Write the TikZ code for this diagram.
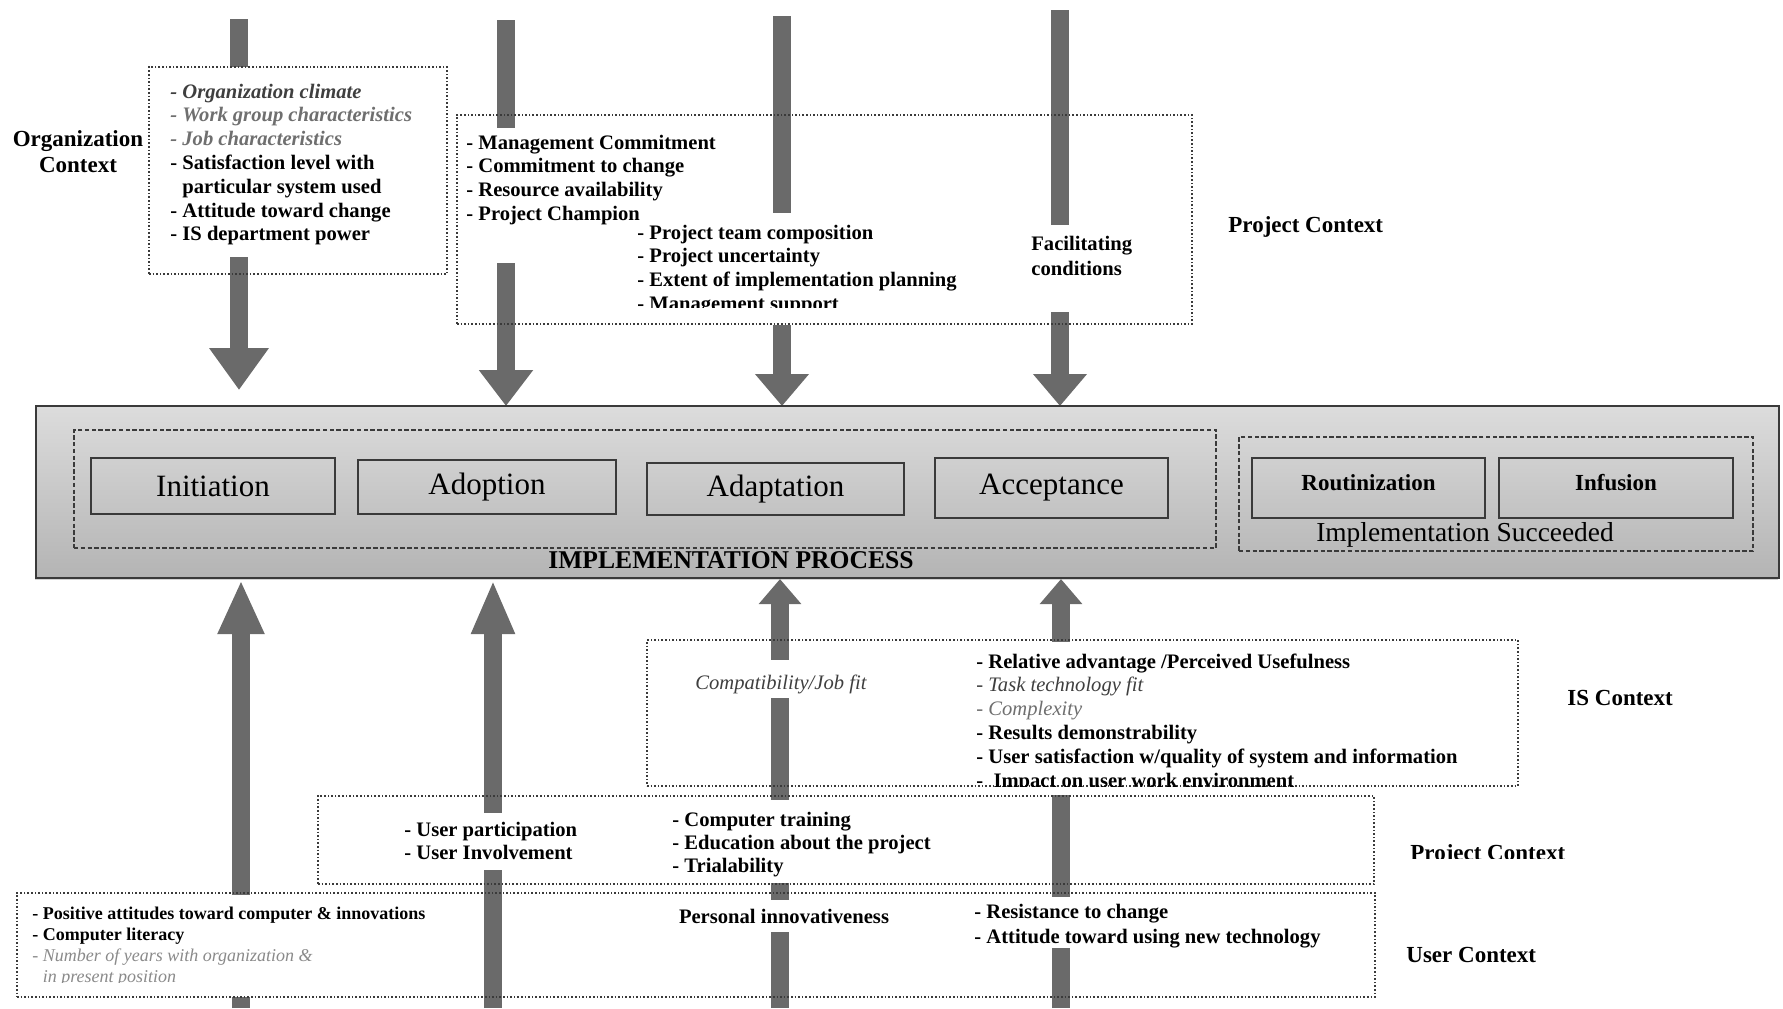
\documentclass[tikz,border=0pt]{standalone}
\usepackage{fontspec}
\setmainfont{Liberation Serif}
\usetikzlibrary{arrows.meta,shadows}

\definecolor{arrowgray}{HTML}{6A6A6A}
\definecolor{boxline}{HTML}{3A3A3A}
\definecolor{itdark}{HTML}{3F3F3F}
\definecolor{itgray}{HTML}{6F6F6F}
\definecolor{itlight}{HTML}{8A8A8A}
\definecolor{procTop}{HTML}{DCDCDC}
\definecolor{procBot}{HTML}{B4B4B4}

\begin{document}
\begin{tikzpicture}[x=0.5pt,y=-0.5pt,
  ctxbox/.style={draw=boxline, line width=0.8pt, densely dotted, inner sep=0pt},
  grpbox/.style={draw=boxline, line width=0.8pt, dash pattern=on 2.2pt off 1.2pt, inner sep=0pt},
  stagebox/.style={draw=boxline, line width=1pt, inner sep=0pt,
    font=\fontsize{15.5}{18}\selectfont},
  donebox/.style={draw=boxline, line width=1pt, inner sep=0pt,
    font=\fontsize{11.5}{13}\selectfont\bfseries},
  mask/.style={fill=white, draw=none},
  flow/.style={draw=arrowgray, line width=9pt},
  % multi-line texts are placed by the baseline of their last line
  txt/.style={font=\fontsize{10.3}{11.9}\selectfont\bfseries, align=left,
    inner sep=0pt, anchor=base west},
  lab/.style={font=\fontsize{11.5}{13}\selectfont\bfseries, inner sep=0pt,
    anchor=base west},
]
\useasboundingbox (0,0) rectangle (1783,1008);

% ---------- arrow end points ----------
\coordinate (t1s) at (239,19);   \coordinate (t1e) at (239,390);
\coordinate (t2s) at (506,20);   \coordinate (t2e) at (506,406);
\coordinate (t3s) at (782,16);   \coordinate (t3e) at (782,406);
\coordinate (t4s) at (1060,10);  \coordinate (t4e) at (1060,406);
\coordinate (b1s) at (241,1008); \coordinate (b1e) at (241,580);
\coordinate (b2s) at (493,1008); \coordinate (b2e) at (493,580);
\coordinate (b3s) at (780,1008); \coordinate (b3e) at (780,579);
\coordinate (b4s) at (1061,1008);\coordinate (b4e) at (1061,579);

% ---------- influence arrows ----------
\draw[flow, -{Triangle[width=28.5pt,length=21pt]}] (t1s) -- (t1e);
\draw[flow, -{Triangle[width=26pt,length=18pt]}] (t2s) -- (t2e);
\draw[flow, -{Triangle[width=26pt,length=16pt]}] (t3s) -- (t3e);
\draw[flow, -{Triangle[width=26pt,length=16pt]}] (t4s) -- (t4e);
\draw[flow, -{Triangle[width=21.5pt,length=27pt]}] (b1s) -- (b1e);
\draw[flow, -{Triangle[width=20pt,length=27pt]}] (b2s) -- (b2e);
\draw[flow, -{Triangle[width=20.5pt,length=12.5pt]}] (b3s) -- (b3e);
\draw[flow, -{Triangle[width=20.5pt,length=12.5pt]}] (b4s) -- (b4e);

% ---------- white text panels hiding the shafts ----------
\path[mask] (150,67) rectangle (446,257);
\path[mask] (460,128) rectangle (740,263);
\path[mask] (630,213) rectangle (1000,325);
\path[mask] (1025,225) rectangle (1150,312);
\path[mask] (690,660) rectangle (875,698);
\path[mask] (970,642) rectangle (1510,795);
\path[mask] (398,813) rectangle (585,870);
\path[mask] (665,800) rectangle (940,883);
\path[mask] (19,895) rectangle (445,997);
\path[mask] (675,900) rectangle (895,932);
\path[mask] (968,897) rectangle (1330,948);

% ---------- context boxes ----------
\node[ctxbox, minimum width=149pt, minimum height=103.5pt] (orgbox) at (298,170.5) {};
\node[ctxbox, minimum width=367.5pt, minimum height=104.5pt] (projtop) at (824.5,219.5) {};
\node[ctxbox, minimum width=435.5pt, minimum height=73pt] (isbox) at (1082.5,713) {};
\node[ctxbox, minimum width=528pt, minimum height=44pt] (projbot) at (846,840) {};
\node[ctxbox, minimum width=679pt, minimum height=52pt] (userbox) at (696,945) {};

% ---------- organization context ----------
\node[font=\fontsize{11.5}{13}\selectfont\bfseries, align=center, inner sep=0pt, anchor=base]
  (orglab) at (78,172) {Organization\\Context};
\node[txt] (orgitems) at (170,240.8)
  {{\itshape\color{itdark}- Organization climate}\\
   {\itshape\color{itgray}- Work group characteristics}\\
   {\itshape\color{itgray}- Job characteristics}\\
   - Satisfaction level with\\
   \hphantom{- }particular system used\\
   - Attitude toward change\\
   - IS department power};

% ---------- project context (top) ----------
\node[txt] (projA) at (466,220.4)
  {- Management Commitment\\- Commitment to change\\- Resource availability\\- Project Champion};
\begin{scope}
  \clip (456,110) rectangle (1192,307);
  \node[txt] (projB) at (637,310.4)
    {- Project team composition\\- Project uncertainty\\- Extent of implementation planning\\- Management support};
\end{scope}
\node[txt, font=\fontsize{10.3}{12.5}\selectfont\bfseries] (facil) at (1031,275)
  {Facilitating\\conditions};
\node[lab] (projtoplab) at (1228,232) {Project Context};

% ---------- IS context ----------
\node[txt, font=\fontsize{10.3}{11.9}\selectfont\itshape, text=itdark] (compat) at (695,689)
  {Compatibility/Job fit};
\begin{scope}
  \clip (960,630) rectangle (1518,786);
  \node[txt] (isitems) at (976,787)
    {- Relative advantage /Perceived Usefulness\\
     {\mdseries\itshape\color{itdark}- Task technology fit}\\
     {\mdseries\itshape\color{itgray}- Complexity}\\
     - Results demonstrability\\
     - User satisfaction w/quality of system and information\\
     -\ \ Impact on user work environment};
\end{scope}
\node[lab] (islab) at (1567,705) {IS Context};

% ---------- project context (bottom) ----------
\node[txt, font=\fontsize{10.3}{11.5}\selectfont\bfseries] (userpart) at (404,859)
  {- User participation\\- User Involvement};
\node[txt, font=\fontsize{10.3}{11.5}\selectfont\bfseries] (training) at (672,872)
  {- Computer training\\- Education about the project\\- Trialability};
\begin{scope}
  \clip (1400,820) rectangle (1600,858);
  \node[lab] (projbotlab) at (1410,860) {Project Context};
\end{scope}

% ---------- user context ----------
\begin{scope}
  \clip (19,895) rectangle (460,982);
  \node[txt, font=\fontsize{9}{10.5}\selectfont\bfseries] (useritems) at (32,982)
    {- Positive attitudes toward computer \& innovations\\
     - Computer literacy\\
     {\mdseries\itshape\color{itlight}- Number of years with organization \&}\\
     {\mdseries\itshape\color{itlight}\hphantom{- }in present position}};
\end{scope}
\node[txt, anchor=base] (innov) at (784,923) {Personal innovativeness};
\node[txt, font=\fontsize{10.3}{12.5}\selectfont\bfseries] (resist) at (974,943)
  {- Resistance to change\\- Attitude toward using new technology};
\node[lab] (userlab) at (1406,962) {User Context};

% ---------- implementation process ----------
\node[draw=boxline, line width=1pt, top color=procTop, bottom color=procBot,
      minimum width=871.5pt, minimum height=86pt, inner sep=0pt,
      drop shadow={shadow xshift=-0.6pt, shadow yshift=-1.2pt, opacity=0.35}]
  (proc) at (907.5,492) {};
\node[grpbox, minimum width=571pt, minimum height=59pt] (stages) at (645,489) {};
\node[grpbox, minimum width=257pt, minimum height=57pt] (succeeded) at (1496,494) {};

\node[stagebox, minimum width=122pt, minimum height=28pt] (init) at (213,486) {Initiation};
\node[stagebox, minimum width=129pt, minimum height=27pt] (adopt) at (487,487) {Adoption};
\node[stagebox, minimum width=128.5pt, minimum height=26pt] (adapt) at (775.5,489) {Adaptation};
\node[stagebox, minimum width=116.5pt, minimum height=30pt] (accept) at (1051.5,488) {Acceptance};

\node[donebox, minimum width=116.5pt, minimum height=30pt] (rout) at (1368.5,488) {};
\node[donebox, minimum width=117pt, minimum height=30pt] (infus) at (1616,488) {};
\node[font=\fontsize{11.5}{13}\selectfont\bfseries, inner sep=0pt] (routlab) at (1368.5,483) {Routinization};
\node[font=\fontsize{11.5}{13}\selectfont\bfseries, inner sep=0pt] (infuslab) at (1616,483) {Infusion};
\node[font=\fontsize{13.7}{16}\selectfont, inner sep=0pt] (succlab) at (1465,535) {Implementation Succeeded};
\node[font=\fontsize{12.8}{14}\selectfont\bfseries, inner sep=0pt] (proclab) at (731,560) {IMPLEMENTATION PROCESS};

\end{tikzpicture}
\end{document}
